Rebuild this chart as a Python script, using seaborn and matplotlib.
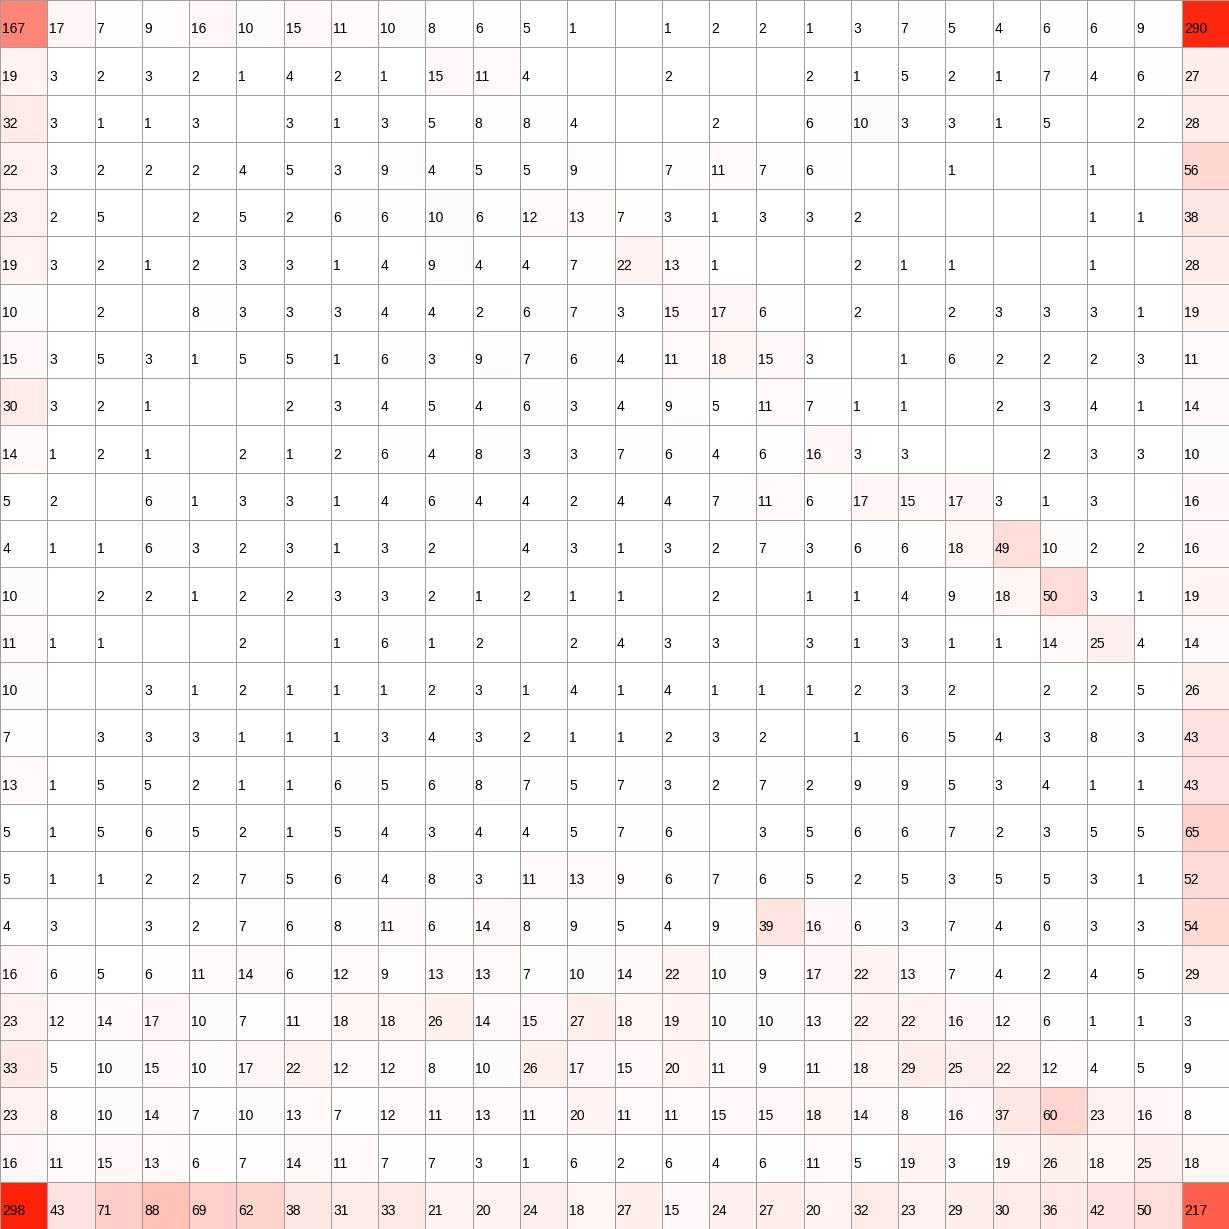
import numpy as np
import pandas as pd
import seaborn as sns
import matplotlib.pyplot as plt
from matplotlib.colors import LinearSegmentedColormap

# contagens da matriz (0 = celula vazia)
row00 = [167, 17, 7, 9, 16, 10, 15, 11, 10, 8, 6, 5, 1, 0, 1, 2, 2, 1, 3, 7, 5, 4, 6, 6, 9, 290]
row01 = [19, 3, 2, 3, 2, 1, 4, 2, 1, 15, 11, 4, 0, 0, 2, 0, 0, 2, 1, 5, 2, 1, 7, 4, 6, 27]
row02 = [32, 3, 1, 1, 3, 0, 3, 1, 3, 5, 8, 8, 4, 0, 0, 2, 0, 6, 10, 3, 3, 1, 5, 0, 2, 28]
row03 = [22, 3, 2, 2, 2, 4, 5, 3, 9, 4, 5, 5, 9, 0, 7, 11, 7, 6, 0, 0, 1, 0, 0, 1, 0, 56]
row04 = [23, 2, 5, 0, 2, 5, 2, 6, 6, 10, 6, 12, 13, 7, 3, 1, 3, 3, 2, 0, 0, 0, 0, 1, 1, 38]
row05 = [19, 3, 2, 1, 2, 3, 3, 1, 4, 9, 4, 4, 7, 22, 13, 1, 0, 0, 2, 1, 1, 0, 0, 1, 0, 28]
row06 = [10, 0, 2, 0, 8, 3, 3, 3, 4, 4, 2, 6, 7, 3, 15, 17, 6, 0, 2, 0, 2, 3, 3, 3, 1, 19]
row07 = [15, 3, 5, 3, 1, 5, 5, 1, 6, 3, 9, 7, 6, 4, 11, 18, 15, 3, 0, 1, 6, 2, 2, 2, 3, 11]
row08 = [30, 3, 2, 1, 0, 0, 2, 3, 4, 5, 4, 6, 3, 4, 9, 5, 11, 7, 1, 1, 0, 2, 3, 4, 1, 14]
row09 = [14, 1, 2, 1, 0, 2, 1, 2, 6, 4, 8, 3, 3, 7, 6, 4, 6, 16, 3, 3, 0, 0, 2, 3, 3, 10]
row10 = [5, 2, 0, 6, 1, 3, 3, 1, 4, 6, 4, 4, 2, 4, 4, 7, 11, 6, 17, 15, 17, 3, 1, 3, 0, 16]
row11 = [4, 1, 1, 6, 3, 2, 3, 1, 3, 2, 0, 4, 3, 1, 3, 2, 7, 3, 6, 6, 18, 49, 10, 2, 2, 16]
row12 = [10, 0, 2, 2, 1, 2, 2, 3, 3, 2, 1, 2, 1, 1, 0, 2, 0, 1, 1, 4, 9, 18, 50, 3, 1, 19]
row13 = [11, 1, 1, 0, 0, 2, 0, 1, 6, 1, 2, 0, 2, 4, 3, 3, 0, 3, 1, 3, 1, 1, 14, 25, 4, 14]
row14 = [10, 0, 0, 3, 1, 2, 1, 1, 1, 2, 3, 1, 4, 1, 4, 1, 1, 1, 2, 3, 2, 0, 2, 2, 5, 26]
row15 = [7, 0, 3, 3, 3, 1, 1, 1, 3, 4, 3, 2, 1, 1, 2, 3, 2, 0, 1, 6, 5, 4, 3, 8, 3, 43]
row16 = [13, 1, 5, 5, 2, 1, 1, 6, 5, 6, 8, 7, 5, 7, 3, 2, 7, 2, 9, 9, 5, 3, 4, 1, 1, 43]
row17 = [5, 1, 5, 6, 5, 2, 1, 5, 4, 3, 4, 4, 5, 7, 6, 0, 3, 5, 6, 6, 7, 2, 3, 5, 5, 65]
row18 = [5, 1, 1, 2, 2, 7, 5, 6, 4, 8, 3, 11, 13, 9, 6, 7, 6, 5, 2, 5, 3, 5, 5, 3, 1, 52]
row19 = [4, 3, 0, 3, 2, 7, 6, 8, 11, 6, 14, 8, 9, 5, 4, 9, 39, 16, 6, 3, 7, 4, 6, 3, 3, 54]
row20 = [16, 6, 5, 6, 11, 14, 6, 12, 9, 13, 13, 7, 10, 14, 22, 10, 9, 17, 22, 13, 7, 4, 2, 4, 5, 29]
row21 = [23, 12, 14, 17, 10, 7, 11, 18, 18, 26, 14, 15, 27, 18, 19, 10, 10, 13, 22, 22, 16, 12, 6, 1, 1, 3]
row22 = [33, 5, 10, 15, 10, 17, 22, 12, 12, 8, 10, 26, 17, 15, 20, 11, 9, 11, 18, 29, 25, 22, 12, 4, 5, 9]
row23 = [23, 8, 10, 14, 7, 10, 13, 7, 12, 11, 13, 11, 20, 11, 11, 15, 15, 18, 14, 8, 16, 37, 60, 23, 16, 8]
row24 = [16, 11, 15, 13, 6, 7, 14, 11, 7, 7, 3, 1, 6, 2, 6, 4, 6, 11, 5, 19, 3, 19, 26, 18, 25, 18]
row25 = [298, 43, 71, 88, 69, 62, 38, 31, 33, 21, 20, 24, 18, 27, 15, 24, 27, 20, 32, 23, 29, 30, 36, 42, 50, 217]

linhas = [row00, row01, row02, row03, row04, row05, row06, row07, row08, row09,
          row10, row11, row12, row13, row14, row15, row16, row17, row18, row19,
          row20, row21, row22, row23, row24, row25]

matriz = pd.DataFrame(np.array(linhas))
rotulos = matriz.map(lambda v: '' if v == 0 else str(v))

plt.rcParams['font.family'] = ['Liberation Sans', 'DejaVu Sans']

cmap = LinearSegmentedColormap.from_list('brancoVermelho', ['#ffffff', '#ff2208'])

fig = plt.figure(figsize=(12.29, 12.29), dpi=100)
ax = fig.add_axes([0, 0, 1, 1])
sns.heatmap(matriz, annot=rotulos, fmt='', cmap=cmap, vmin=4, vmax=298,
            cbar=False, linewidths=0.7, linecolor='#9e9e9e',
            annot_kws={'color': 'black', 'fontsize': 10}, ax=ax)

# numeros alinhados a esquerda e um pouco abaixo do centro
for t in ax.texts:
    x, y = t.get_position()
    t.set_position((x - 0.455, y + 0.12))
    t.set_ha('left')
    t.set_color('black')

ax.set_xticks([])
ax.set_yticks([])
ax.set_xlabel('')
ax.set_ylabel('')
for s in ax.spines.values():
    s.set_visible(True)
    s.set_color('#9e9e9e')
    s.set_linewidth(0.7)

fig.savefig('out.png', dpi=100)
